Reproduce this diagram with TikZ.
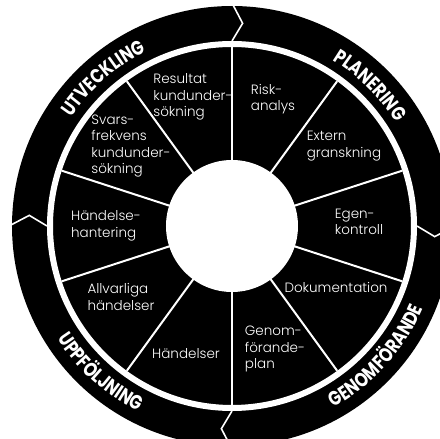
\documentclass[tikz,border=0pt]{standalone}
\usepackage{fontspec}
\setmainfont{Poppins}
\IfFontExistsTF{Poppins Light}
	{\newfontfamily\segfont{Poppins Light}}
	{\newfontfamily\segfont{Poppins}}
\newfontfamily\ringfont{Poppins}[FakeStretch=0.8]
\newcommand{\ringtxt}{\ringfont\bfseries\fontsize{20}{20}\selectfont}
\usetikzlibrary{decorations.text}

\begin{document}
\begin{tikzpicture}[
		x=1pt, y=1pt,
		lbl/.style={text=white, align=left, inner sep=0pt, font=\segfont\fontsize{13.5}{16.5}\selectfont},
		sep/.style={draw=white, line width=2pt},
		notch/.style={draw=white, line width=1.6pt, line join=miter},
		ringtext/.style={decorate, decoration={text along path, text align=center, text={|\ringtxt\color{white}|#1}}}
	]
		\useasboundingbox (-232,-213) rectangle (208,226);
		\clip (-232,-213) rectangle (208,226);

		% ===== Wheel =====
		\fill[black] (0,0) circle[radius=220pt];
		\draw[white, line width=6pt] (0,0) circle[radius=182pt];
		\fill[white] (0,0) circle[radius=66pt];

		% Segment dividers
		\foreach \a in {0,...,9}
			\draw[sep] (90-36*\a:65pt) -- (90-36*\a:179pt);

		% Chevrons between the phases
		\foreach \a in {90,0,-90,180}
			\draw[notch] (\a:223pt) -- (\a-3:203pt) -- (\a:185pt);

		% ===== Phase labels on the ring =====
		\path[ringtext=UTVECKLING] (171:194pt) arc[start angle=171, end angle=91, radius=194pt];
		\path[ringtext=PLANERING] (85.5:194pt) arc[start angle=85.5, end angle=5.5, radius=194pt];
		\path[ringtext=GENOMFÖRANDE] (-82:208pt) arc[start angle=-82, end angle=-2, radius=208pt];
		\path[ringtext=UPPFÖLJNING] (-172:208pt) arc[start angle=-172, end angle=-92, radius=208pt];

		% ===== Segment labels =====
		\node[lbl] (resultat) at (-39,129) {Resultat\\kundunder-\\sökning};
		\node[lbl] (risk) at (41,127) {Risk-\\analys};
		\node[lbl] (extern) at (112,80) {Extern\\granskning};
		\node[lbl] (egen) at (127,4) {Egen-\\kontroll};
		\node[lbl] (dok) at (104,-61) {Dokumentation};
		\node[lbl] (plan) at (43,-123) {Genom-\\förande-\\plan};
		\node[lbl] (hand) at (-46,-128) {Händelser};
		\node[lbl] (allv) at (-111,-71) {Allvarliga\\händelser};
		\node[lbl] (hant) at (-126,0) {Händelse-\\hantering};
		\node[lbl] (svars) at (-101,80) {Svars-\\frekvens\\kundunder-\\sökning};
	\end{tikzpicture}
\end{document}
